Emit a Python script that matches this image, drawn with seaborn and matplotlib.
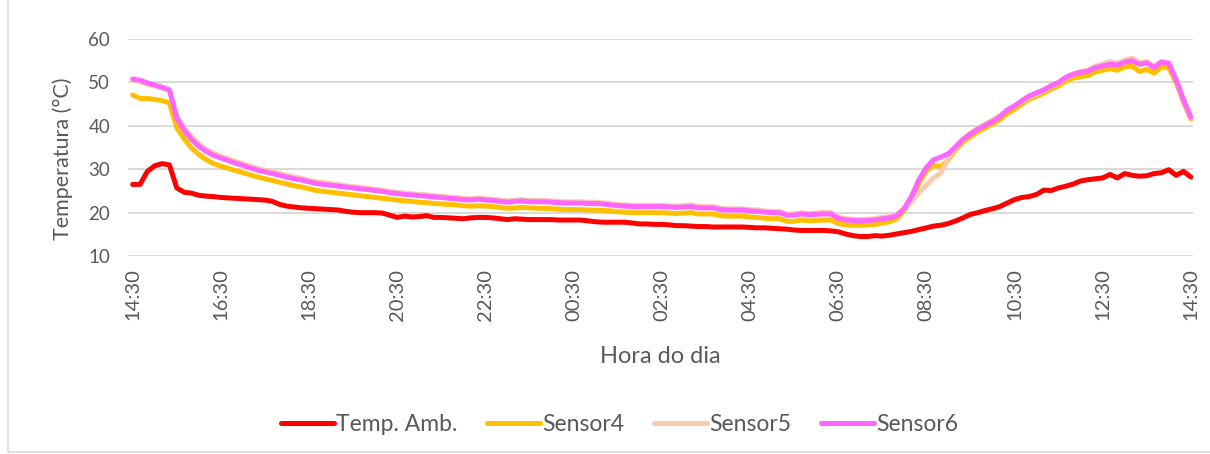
import numpy as np
import pandas as pd
import seaborn as sns
import matplotlib.pyplot as plt
from matplotlib.lines import Line2D
from matplotlib.patches import Rectangle

''' DATA (10-min samples, 14:30 -> 14:30 next day)
'''
tick_labels = ["14:30", "16:30", "18:30", "20:30", "22:30", "00:30", "02:30",
               "04:30", "06:30", "08:30", "10:30", "12:30", "14:30"]

temp_amb = [26.5, 26.5, 29.5, 30.8, 31.3, 31.0, 25.7, 24.7, 24.5, 24.0,
            23.8, 23.7, 23.5, 23.4, 23.3, 23.2, 23.1, 23.0, 22.9, 22.6,
            21.9, 21.5, 21.3, 21.1, 21.0, 20.9, 20.8, 20.7, 20.6, 20.3,
            20.1, 20.0, 20.0, 20.0, 19.9, 19.4, 18.9, 19.2, 19.0, 19.1,
            19.3, 18.9, 18.9, 18.8, 18.7, 18.6, 18.8, 18.9, 18.9, 18.8,
            18.6, 18.4, 18.6, 18.5, 18.4, 18.4, 18.4, 18.4, 18.3, 18.3,
            18.3, 18.3, 18.1, 17.9, 17.8, 17.8, 17.8, 17.8, 17.6, 17.4,
            17.4, 17.3, 17.3, 17.2, 17.0, 17.0, 16.9, 16.8, 16.8, 16.7,
            16.7, 16.7, 16.7, 16.7, 16.6, 16.5, 16.5, 16.4, 16.3, 16.2,
            16.0, 15.9, 15.9, 15.9, 15.9, 15.8, 15.6, 15.1, 14.7, 14.5,
            14.5, 14.7, 14.6, 14.8, 15.1, 15.4, 15.7, 16.1, 16.5, 16.9,
            17.1, 17.5, 18.1, 18.8, 19.6, 20.0, 20.5, 20.9, 21.4, 22.2,
            23.0, 23.5, 23.7, 24.2, 25.2, 25.1, 25.7, 26.1, 26.6, 27.3,
            27.6, 27.8, 28.0, 28.8, 28.0, 29.0, 28.6, 28.4, 28.5, 29.0,
            29.2, 29.9, 28.6, 29.5, 28.2]

sensor4 = [47.1, 46.3, 46.3, 46.1, 45.8, 45.3, 39.6, 37.0, 34.9, 33.4,
           32.2, 31.3, 30.7, 30.2, 29.7, 29.2, 28.7, 28.2, 27.8, 27.4,
           27.0, 26.6, 26.2, 25.9, 25.5, 25.1, 24.9, 24.7, 24.5, 24.3,
           24.1, 23.9, 23.7, 23.5, 23.3, 23.1, 22.9, 22.7, 22.6, 22.4,
           22.3, 22.1, 22.0, 21.9, 21.8, 21.6, 21.5, 21.6, 21.5, 21.4,
           21.2, 21.0, 21.1, 21.2, 21.1, 21.0, 21.0, 20.9, 20.8, 20.7,
           20.7, 20.7, 20.6, 20.6, 20.5, 20.4, 20.2, 20.1, 20.0, 20.0,
           20.0, 20.0, 20.0, 19.9, 19.8, 19.9, 20.0, 19.7, 19.7, 19.7,
           19.3, 19.2, 19.2, 19.2, 19.0, 18.9, 18.7, 18.6, 18.6, 18.0,
           18.0, 18.3, 18.1, 18.2, 18.3, 18.3, 17.5, 17.2, 17.1, 17.1,
           17.2, 17.3, 17.6, 17.9, 18.6, 20.5, 23.2, 26.8, 29.6, 30.9,
           30.6, 32.2, 34.5, 36.3, 37.5, 38.6, 39.5, 40.4, 41.4, 42.8,
           43.8, 45.0, 46.1, 46.8, 47.5, 48.5, 49.2, 50.3, 51.0, 51.3,
           51.6, 52.4, 52.8, 53.2, 52.8, 53.6, 53.8, 52.5, 53.0, 52.1,
           53.6, 53.3, 50.0, 45.5, 41.6]

sensor5 = [50.5, 50.2, 49.6, 49.2, 48.7, 48.1, 42.3, 39.6, 37.5, 35.8,
           34.6, 33.7, 33.0, 32.4, 31.8, 31.3, 30.7, 30.2, 29.8, 29.4,
           29.0, 28.6, 28.2, 27.9, 27.5, 27.1, 26.9, 26.7, 26.5, 26.2,
           26.0, 25.8, 25.6, 25.4, 25.2, 24.9, 24.7, 24.5, 24.4, 24.2,
           24.1, 23.9, 23.8, 23.6, 23.5, 23.3, 23.2, 23.4, 23.2, 23.1,
           22.9, 22.7, 22.9, 23.0, 22.8, 22.8, 22.8, 22.7, 22.6, 22.5,
           22.5, 22.5, 22.4, 22.4, 22.3, 22.1, 21.9, 21.8, 21.7, 21.7,
           21.7, 21.7, 21.7, 21.6, 21.5, 21.6, 21.8, 21.4, 21.4, 21.4,
           21.0, 20.9, 20.9, 20.9, 20.7, 20.6, 20.4, 20.3, 20.3, 19.7,
           19.7, 20.0, 19.8, 19.9, 20.1, 20.0, 19.0, 18.6, 18.5, 18.4,
           18.5, 18.6, 18.9, 19.1, 19.6, 20.8, 22.5, 24.6, 26.3, 28.0,
           29.2, 32.6, 35.0, 36.9, 38.3, 39.4, 40.4, 41.3, 42.3, 43.6,
           44.6, 45.6, 46.6, 47.3, 48.1, 49.1, 49.9, 51.1, 51.9, 52.5,
           52.8, 53.8, 54.2, 54.8, 54.4, 55.1, 55.6, 54.6, 54.8, 53.7,
           54.8, 54.4, 50.5, 46.0, 41.8]

sensor6 = [50.8, 50.5, 49.9, 49.4, 48.9, 48.3, 41.8, 39.0, 36.9, 35.3,
           34.1, 33.2, 32.6, 32.0, 31.4, 30.9, 30.3, 29.8, 29.4, 29.0,
           28.6, 28.2, 27.8, 27.5, 27.1, 26.7, 26.5, 26.3, 26.1, 25.9,
           25.7, 25.5, 25.3, 25.1, 24.9, 24.6, 24.4, 24.2, 24.1, 23.9,
           23.8, 23.6, 23.5, 23.3, 23.2, 23.0, 22.9, 23.1, 22.9, 22.8,
           22.6, 22.4, 22.6, 22.7, 22.5, 22.5, 22.5, 22.4, 22.3, 22.2,
           22.2, 22.2, 22.1, 22.1, 22.0, 21.8, 21.6, 21.5, 21.4, 21.4,
           21.4, 21.4, 21.4, 21.3, 21.2, 21.3, 21.4, 21.1, 21.1, 21.1,
           20.7, 20.6, 20.6, 20.6, 20.4, 20.3, 20.1, 20.0, 20.0, 19.4,
           19.4, 19.7, 19.5, 19.6, 19.7, 19.7, 18.7, 18.3, 18.2, 18.1,
           18.2, 18.3, 18.6, 18.8, 19.3, 21.0, 23.8, 27.6, 30.4, 32.2,
           32.8, 33.6, 35.2, 36.9, 38.1, 39.2, 40.1, 41.0, 42.1, 43.6,
           44.6, 45.8, 46.9, 47.6, 48.3, 49.3, 50.0, 51.2, 51.9, 52.3,
           52.6, 53.4, 53.8, 54.2, 54.0, 54.7, 55.0, 54.2, 54.5, 53.4,
           54.7, 54.4, 50.6, 46.0, 42.0]

series_names = ["Temp. Amb.", "Sensor4", "Sensor5", "Sensor6"]
series_colors = ["#FF0000", "#FFC000", "#F8CBAD", "#FF66FF"]

''' BUILD LONG TABLE
'''
hours = np.arange(len(temp_amb)) / 6.0
frames = []
for name, vals in zip(series_names, [temp_amb, sensor4, sensor5, sensor6]):
    frames.append(pd.DataFrame({'hora': hours, 'temp': vals, 'serie': name}))
df = pd.concat(frames, ignore_index=True)

''' PLOT
'''
sns.set_style('white')
plt.rcParams['font.family'] = ['Lato', 'DejaVu Sans']
gray = '#595959'

fig = plt.figure(figsize=(12.1, 4.54), dpi=100)
ax = fig.add_axes([0.106, 0.436, 0.880, 0.478])

pal = dict(zip(series_names, series_colors))
sns.lineplot(data=df, x='hora', y='temp', hue='serie', palette=pal,
             estimator=None, linewidth=3.6, legend=False, ax=ax)

ax.set_xlim(-0.1, 24.05)
ax.set_ylim(10, 60)
ax.set_yticks(range(10, 61, 10))
ax.set_xticks(np.arange(0, 25, 2))
ax.set_xticklabels(tick_labels, rotation=90, fontsize=14.5, color=gray)
ax.tick_params(axis='y', labelsize=13.5, labelcolor=gray, length=0, pad=13)
ax.tick_params(axis='x', length=0, pad=9)
ax.yaxis.grid(True, color='#D9D9D9', linewidth=1.4)
ax.set_axisbelow(True)
for s in ax.spines.values():
    s.set_visible(False)

ax.set_ylabel('Temperatura (°C)', fontsize=15.5, color=gray, labelpad=12)
ax.yaxis.set_label_coords(-0.052, 0.45)
ax.set_xlabel('Hora do dia', fontsize=17, color=gray, labelpad=18)

handles = [Line2D([0], [0], color=c, lw=3.6) for c in series_colors]
fig.legend(handles, series_names, loc='center', bbox_to_anchor=(0.512, 0.066),
           ncol=4, frameon=False, fontsize=16.5, handlelength=2.3,
           handletextpad=0.1, columnspacing=1.3, labelcolor=gray)

fig.add_artist(Rectangle((8 / 1210, 2 / 454), 1.2, 1.2, transform=fig.transFigure,
                         fill=False, edgecolor='#D9D9D9', linewidth=1.2))

plt.savefig('out.png', dpi=100)
